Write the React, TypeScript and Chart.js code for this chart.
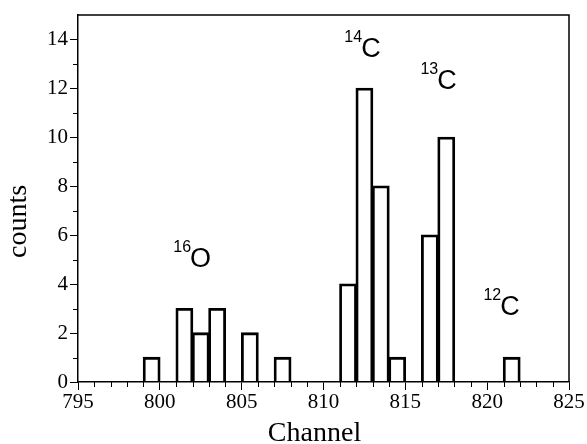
import React, { useEffect, useRef } from 'react';
import { Chart, registerables } from 'chart.js';

Chart.register(...registerables);

// ---- data ----
const binStarts = [799, 801, 802, 803, 805, 807, 811, 812, 813, 814, 816, 817, 821];
const counts = [1, 3, 2, 3, 2, 1, 4, 12, 8, 1, 6, 10, 1];
const binWidth = 1;
const xTickValues = [795, 800, 805, 810, 815, 820, 825];
const yTickValues = [0, 2, 4, 6, 8, 10, 12, 14];
const xRange = [795, 825];
const yRange = [0, 15];
const xTitle = 'Channel';
const yTitle = 'counts';
const peakMasses = ['16', '14', '13', '12'];
const peakElements = ['O', 'C', 'C', 'C'];
const peakChannels = [801.85, 812.3, 816.95, 820.8];
const peakCounts = [4.7, 13.27, 11.96, 2.74];

const SERIF = '"Liberation Serif", "Times New Roman", serif';
const SANS = '"Liberation Sans", Arial, sans-serif';

const decorPlugin = {
  id: 'decor',
  afterDraw(chart: any) {
    const { ctx, chartArea: ca, scales } = chart;
    const xs = scales.x;
    const ys = scales.y;
    ctx.save();
    ctx.strokeStyle = '#000';
    ctx.fillStyle = '#000';
    // frame top & right
    ctx.lineWidth = 1.5;
    ctx.beginPath();
    ctx.moveTo(ca.left, ca.top);
    ctx.lineTo(ca.right, ca.top);
    ctx.lineTo(ca.right, ca.bottom);
    ctx.stroke();
    // minor ticks
    ctx.lineWidth = 1;
    ctx.beginPath();
    for (let v = xRange[0]; v <= xRange[1]; v++) {
      if (xTickValues.includes(v)) continue;
      const px = Math.round(xs.getPixelForValue(v)) + 0.5;
      ctx.moveTo(px, ca.bottom);
      ctx.lineTo(px, ca.bottom + 5);
    }
    for (let v = yRange[0]; v < yRange[1]; v++) {
      if (yTickValues.includes(v)) continue;
      const py = Math.round(ys.getPixelForValue(v)) + 0.5;
      ctx.moveTo(ca.left - 5, py);
      ctx.lineTo(ca.left, py);
    }
    ctx.stroke();
    // peak labels
    ctx.textBaseline = 'alphabetic';
    for (let i = 0; i < peakElements.length; i++) {
      const px = xs.getPixelForValue(peakChannels[i]);
      const py = ys.getPixelForValue(peakCounts[i]);
      ctx.font = '27px ' + SANS;
      ctx.textAlign = 'left';
      ctx.fillText(peakElements[i], px, py);
      ctx.font = '16px ' + SANS;
      ctx.textAlign = 'right';
      ctx.fillText(peakMasses[i], px + 1, py - 15);
    }
    // axis titles
    ctx.font = '28px ' + SERIF;
    ctx.textAlign = 'center';
    ctx.fillText(xTitle, (ca.left + ca.right) / 2 - 9, chart.height - 3);
    ctx.save();
    ctx.translate(26, (ca.top + ca.bottom) / 2 + 23);
    ctx.rotate(-Math.PI / 2);
    ctx.fillText(yTitle, 0, 0);
    ctx.restore();
    ctx.restore();
  },
};

export default function App() {
  const ref = useRef<HTMLCanvasElement | null>(null);
  useEffect(() => {
    if (!ref.current) return;
    const chart = new Chart(ref.current, {
      type: 'bar',
      data: {
        datasets: [
          {
            data: binStarts.map((s, i) => ({ x: s + binWidth / 2, y: counts[i] })),
            backgroundColor: 'rgba(255,255,255,0)',
            borderColor: '#000',
            borderWidth: 1.4,
            inflateAmount: 0.7,
            barPercentage: 1,
            categoryPercentage: 1,
          } as any,
        ],
      },
      options: {
        animation: false,
        responsive: false,
        events: [],
        layout: { padding: { top: 15, right: 18, left: 0, bottom: 0 } },
        plugins: { legend: { display: false }, tooltip: { enabled: false } },
        scales: {
          x: {
            type: 'linear',
            min: xRange[0],
            max: xRange[1],
            offset: false,
            afterBuildTicks: (s: any) => {
              s.ticks = xTickValues.map((value) => ({ value }));
            },
            afterFit: (s: any) => {
              s.height = 62;
            },
            grid: {
              offset: false,
              drawOnChartArea: false,
              drawTicks: true,
              tickLength: 8,
              color: '#000',
              lineWidth: 1,
            },
            border: { display: true, color: '#000', width: 1.5 },
            ticks: {
              color: '#000',
              font: { family: SERIF, size: 21 },
              padding: 0,
              maxRotation: 0,
              autoSkip: false,
            },
          },
          y: {
            type: 'linear',
            min: yRange[0],
            max: yRange[1],
            afterBuildTicks: (s: any) => {
              s.ticks = yTickValues.map((value) => ({ value }));
            },
            afterFit: (s: any) => {
              s.width = 78;
            },
            grid: {
              drawOnChartArea: false,
              drawTicks: true,
              tickLength: 8,
              color: '#000',
              lineWidth: 1,
            },
            border: { display: true, color: '#000', width: 1.5 },
            ticks: {
              color: '#000',
              font: { family: SERIF, size: 21 },
              padding: 2,
              autoSkip: false,
            },
          },
        },
      } as any,
      plugins: [decorPlugin],
    });
    return () => chart.destroy();
  }, []);
  return (
    <div style={{ position: 'fixed', left: 0, top: 0, width: 587, height: 444, background: '#fff' }}>
      <canvas ref={ref} width={587} height={444} style={{ width: 587, height: 444 }} />
    </div>
  );
}
